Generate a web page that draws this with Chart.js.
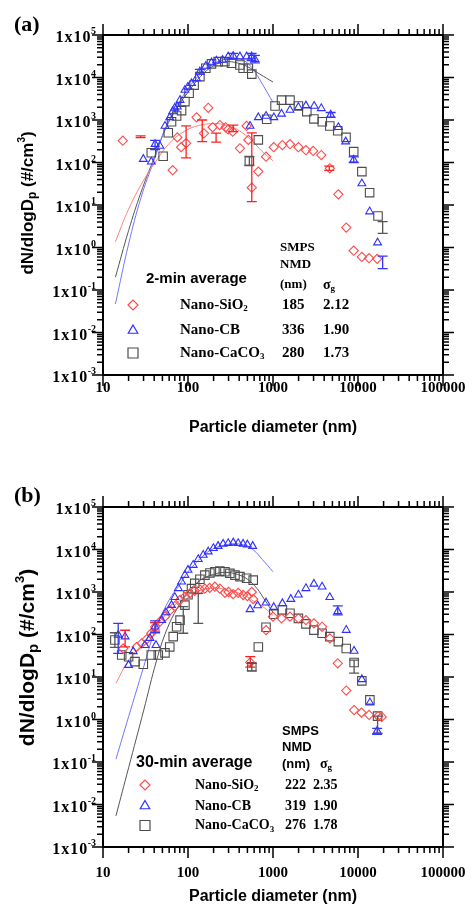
<!DOCTYPE html>
<html>
<head>
<meta charset="utf-8">
<script src="https://cdn.jsdelivr.net/npm/chart.js@4.4.0/dist/chart.umd.min.js"></script>
<style>
  html, body { margin: 0; padding: 0; background: #fff; }
  #wrap { position: relative; width: 473px; height: 908px; }
  .panel { position: absolute; left: 0; width: 473px; height: 454px; }
</style>
</head>
<body>
<div id="wrap">
  <div class="panel" style="top:0"><canvas id="chartA" width="473" height="454"></canvas></div>
  <div class="panel" style="top:454px"><canvas id="chartB" width="473" height="454"></canvas></div>
</div>
<script>
// axis ticks
const X_TICK_LABELS = ['10', '100', '1000', '10000', '100000'];
const Y_TICK_EXPONENTS = [-3, -2, -1, 0, 1, 2, 3, 4, 5];

// legend table
const MATERIALS = ['Nano-SiO', 'Nano-CB', 'Nano-CaCO'];
const MATERIAL_SUB = ['2', '', '3'];
const aNMD = ['185', '336', '280'];
const aSigma = ['2.12', '1.90', '1.73'];
const bNMD = ['222', '319', '276'];
const bSigma = ['2.35', '1.90', '1.78'];

// ---- panel (a): 2-min average ----
const aSiO2X = [17.1, 66, 75, 83, 95, 126, 154, 173, 195, 237, 277, 297, 336, 408, 489, 513, 563, 672, 828, 1020, 1290, 1585, 1990, 2440, 2970, 3700, 4660, 5870, 7270, 8900, 11100, 13500, 16800];
const aSiO2Y = [326, 66, 390, 230, 285, 1155, 487, 1940, 675, 760, 675, 600, 530, 216, 725, 340, 25.5, 61, 137, 229, 257, 270, 229, 195, 187, 150, 73, 17.8, 2.95, 0.84, 0.6, 0.56, 0.54];
const aCBX = [29.8, 37, 41, 46.7, 53.6, 61, 66, 70, 75, 80.6, 92, 100, 110, 126, 138, 162, 189, 216, 255, 297, 340, 408, 489, 537, 560, 612, 672, 828, 1025, 1260, 1585, 1990, 2440, 3050, 3700, 4770, 5870, 7160, 8900, 11100, 13700, 17000];
const aCBY = [120, 104, 270, 245, 720, 1150, 1590, 1930, 2050, 2940, 5080, 6000, 7300, 9560, 13700, 18600, 22400, 24800, 25800, 30900, 32000, 31000, 31000, 720, 31000, 26900, 1150, 1240, 1150, 1390, 1720, 2000, 2180, 2130, 1880, 1320, 675, 310, 115, 32, 7, 1.3];
const aCaX = [37, 51, 58.6, 64, 73.5, 84, 92, 103, 118, 138, 162, 189, 226, 271, 325, 408, 445, 513, 527, 563, 672, 843, 1057, 1260, 1585, 1990, 2500, 3030, 3800, 4660, 5780, 7230, 8900, 11100, 13700, 17200];
const aCaY = [170, 140, 500, 910, 1240, 1660, 2700, 4250, 6630, 10500, 16500, 20900, 23600, 23600, 21600, 19700, 16500, 16500, 108, 12000, 340, 1040, 2140, 2940, 2940, 2140, 1570, 1060, 910, 720, 560, 390, 180, 61, 19.5, 5.5];
const aSiO2FitX = [14, 20, 30, 43, 60, 85, 120, 185, 280, 400, 560, 750, 1000];
const aSiO2FitY = [1.37, 8, 38, 115, 280, 500, 700, 820, 760, 560, 330, 180, 110];
const aCBFitX = [14, 20, 28, 40, 55, 75, 100, 140, 200, 280, 380, 500, 620, 750, 1000];
const aCBFitY = [0.047, 1.2, 15, 115, 700, 2200, 5500, 12000, 21000, 27000, 28000, 22000, 13000, 7000, 2600];
const aCaFitX = [14, 20, 28, 40, 55, 75, 100, 140, 200, 280, 380, 500, 700, 1000];
const aCaFitY = [0.2, 2.5, 20, 130, 650, 2000, 4500, 10500, 19000, 23500, 22000, 18000, 12000, 7800];
// error bars: [diameter, low, high]
const aSiO2Err = [[27.7, 385, 425], [95, 128, 724], [147, 310, 1000], [214, 300, 490], [341, 530, 760], [563, 12, 500], [4590, 65, 82]];
const aCBErr = [[41, 200, 330], [138, 12000, 15500], [340, 27000, 37000], [560, 25000, 37000], [612, 22000, 33000], [4770, 1150, 1500], [8900, 100, 135], [19500, 0.32, 0.63]];
const aCaErr = [[527, 85, 140], [19500, 2.16, 4.05]];

// ---- panel (b): 30-min average ----
const bSiO2X = [17.3, 24.9, 28.5, 32.6, 37, 41, 46.7, 53.6, 61, 70, 80.6, 92, 105, 120, 138, 158, 180, 207, 237, 272, 300, 340, 390, 445, 500, 540, 563, 585, 828, 1000, 1260, 1585, 1990, 2440, 3030, 3780, 4660, 5780, 7270, 9000, 11000, 13500, 17300, 19000];
const bSiO2Y = [47, 51, 62, 77, 107, 152, 200, 263, 363, 467, 650, 780, 930, 1070, 1150, 1200, 1250, 1330, 1200, 960, 1000, 890, 950, 850, 800, 22, 1000, 680, 127, 263, 240, 263, 240, 218, 183, 152, 81, 21, 4.8, 1.67, 1.45, 1.28, 1.2, 1.15];
const bCBX = [15.1, 18.2, 20, 22.7, 31.2, 35.7, 41, 42, 49, 55, 64, 70, 77, 84, 92, 100, 115, 132, 151, 173, 199, 226, 259, 297, 341, 389, 445, 500, 537, 577, 660, 828, 1020, 1290, 1620, 1990, 2440, 3030, 3780, 4660, 5780, 7270, 9000, 11100, 13800, 16800];
const bCBY = [98, 89, 19, 40, 56, 82, 152, 56, 218, 330, 490, 750, 1220, 1740, 2500, 3300, 4300, 5900, 7400, 8900, 10700, 12000, 13500, 14000, 14500, 14000, 13500, 13000, 390, 12000, 480, 560, 440, 540, 680, 860, 1220, 1550, 1330, 750, 350, 127, 41, 8.8, 2.5, 0.54];
const bCaX = [13.8, 16.6, 20, 23.8, 29.8, 37, 44.7, 53.6, 61, 67, 73.5, 80.6, 92, 100, 110, 120, 138, 158, 181, 207, 237, 272, 311, 357, 408, 489, 563, 585, 672, 828, 1020, 1290, 1585, 1990, 2440, 3030, 3780, 4660, 5870, 7270, 9000, 11100, 13800, 17000];
const bCaY = [74, 33, 30, 23, 20, 33, 33, 37, 51, 89, 152, 218, 490, 860, 1200, 1600, 2000, 2500, 2800, 3000, 3100, 3000, 2750, 2500, 2300, 2100, 17.4, 1900, 51, 148, 300, 380, 316, 240, 178, 127, 107, 89, 68, 47, 22, 8.1, 2.9, 1.2];
const bSiO2FitX = [14.2, 20, 30, 40, 60, 90, 130, 200, 300, 450, 600, 800, 1000];
const bSiO2FitY = [7.1, 25, 65, 140, 360, 750, 1050, 1250, 1100, 850, 600, 420, 280];
const bCBFitX = [14.2, 20, 30, 41, 60, 80, 100, 150, 200, 320, 450, 590, 750, 1000];
const bCBFitY = [0.116, 1.16, 17, 127, 650, 1500, 3000, 7000, 10500, 13500, 12800, 9700, 5800, 3000];
const bCaFitX = [14.2, 20, 30, 42.8, 56, 75, 100, 140, 200, 276, 380, 500, 650, 800, 1000];
const bCaFitY = [0.0054, 0.073, 1.6, 25, 127, 420, 1000, 1900, 2600, 2900, 2600, 2000, 1200, 650, 330];
const bSiO2Err = [[18.2, 51, 126], [41, 120, 190], [540, 17, 30]];
const bCBErr = [[15.1, 36, 182], [41, 110, 210], [5780, 290, 470], [16800, 0.45, 0.62]];
const bCaErr = [[13.8, 50, 110], [88, 107, 455], [132, 182, 930], [563, 14, 21], [9000, 12.3, 25], [17000, 0.47, 1.2]];

const SERIF = '"Liberation Serif", "Times New Roman", serif';
const SANS = '"Liberation Sans", Arial, sans-serif';
const RED = '#ff4a4a', BLUE = '#2f2fff', GRAY = '#4d4d4d';
const RED_FIT = '#ff8080', BLUE_FIT = '#7474ff', GRAY_FIT = '#555';

const mk = (xs, ys) => xs.map((x, i) => ({ x, y: ys[i] }));

function rich(ctx, x, y, parts, align) {
  let w = 0;
  parts.forEach(p => { ctx.font = p[1]; w += ctx.measureText(p[0]).width; });
  let cx = align === 'center' ? x - w / 2 : align === 'right' ? x - w : x;
  ctx.textAlign = 'left';
  parts.forEach(p => {
    ctx.font = p[1];
    ctx.fillText(p[0], cx, y + (p[2] || 0));
    cx += ctx.measureText(p[0]).width;
  });
}

function marker(ctx, style, x, y, color) {
  ctx.save();
  ctx.strokeStyle = color; ctx.lineWidth = 1.2;
  ctx.beginPath();
  if (style === 'rectRot') {
    const r = 5;
    ctx.moveTo(x - r, y); ctx.lineTo(x, y - r); ctx.lineTo(x + r, y); ctx.lineTo(x, y + r); ctx.closePath();
  } else if (style === 'triangle') {
    const r = 5.5;
    for (let k = 0; k < 3; k++) {
      const a = k * 2 * Math.PI / 3;
      const px = x + Math.sin(a) * r, py = y - Math.cos(a) * r;
      k ? ctx.lineTo(px, py) : ctx.moveTo(px, py);
    }
    ctx.closePath();
  } else {
    ctx.rect(x - 5, y - 5, 10, 10);
  }
  ctx.stroke();
  ctx.restore();
}

function errorBars(chart, list, color) {
  const { ctx, scales: { x, y } } = chart;
  ctx.save();
  ctx.strokeStyle = color; ctx.lineWidth = 1.3;
  ctx.beginPath();
  list.forEach(([v, lo, hi]) => {
    const px = x.getPixelForValue(v), y1 = y.getPixelForValue(lo), y2 = y.getPixelForValue(hi);
    ctx.moveTo(px, y1); ctx.lineTo(px, y2);
    ctx.moveTo(px - 5, y1); ctx.lineTo(px + 5, y1);
    ctx.moveTo(px - 5, y2); ctx.lineTo(px + 5, y2);
  });
  ctx.stroke();
  ctx.restore();
}

function drawAxes(chart, p) {
  const { ctx, chartArea: a, scales: { x, y } } = chart;
  ctx.save();
  ctx.strokeStyle = '#000';
  ctx.lineWidth = 2;
  ctx.strokeRect(a.left, a.top, a.right - a.left, a.bottom - a.top);
  ctx.lineWidth = 1.5;
  ctx.beginPath();
  X_TICK_LABELS.forEach((lab, i) => {
    const d = Number(lab);
    for (let m = 1; m <= 9; m++) {
      if (m > 1 && i === X_TICK_LABELS.length - 1) break;
      const px = x.getPixelForValue(d * m), len = m === 1 ? 11 : 6;
      ctx.moveTo(px, a.bottom); ctx.lineTo(px, a.bottom + len);
      ctx.moveTo(px, a.top); ctx.lineTo(px, a.top - len);
    }
  });
  Y_TICK_EXPONENTS.forEach((e, i) => {
    for (let m = 1; m <= 9; m++) {
      if (m > 1 && i === Y_TICK_EXPONENTS.length - 1) break;
      const py = y.getPixelForValue(m * Math.pow(10, e)), len = m === 1 ? 11 : 6;
      ctx.moveTo(a.left, py); ctx.lineTo(a.left - len, py);
      ctx.moveTo(a.right, py); ctx.lineTo(a.right + len, py);
    }
  });
  ctx.stroke();

  ctx.fillStyle = '#000';
  ctx.textBaseline = 'middle';
  ctx.textAlign = 'center';
  ctx.font = `bold 15px ${SERIF}`;
  X_TICK_LABELS.forEach(lab => ctx.fillText(lab, x.getPixelForValue(Number(lab)), p.xTickY));

  ctx.textBaseline = 'alphabetic';
  Y_TICK_EXPONENTS.forEach(e => {
    const py = y.getPixelForValue(Math.pow(10, e));
    ctx.font = `bold 10px ${SERIF}`;
    ctx.textAlign = 'right';
    const ex = String(e);
    const ew = ctx.measureText(ex).width;
    ctx.fillText(ex, 96, py - 1);
    ctx.font = `bold 16px ${SERIF}`;
    ctx.letterSpacing = '1px';
    ctx.fillText('1x10', 96 - ew - 0.5 + 1, py + 7);
    ctx.letterSpacing = '0px';
  });

  // axis titles
  ctx.textBaseline = 'middle';
  rich(ctx, 273, p.xTitleY, [['Particle diameter (nm)', `bold 16px ${SANS}`]], 'center');
  ctx.save();
  ctx.translate(28, p.yTitleY);
  ctx.rotate(-Math.PI / 2);
  const f = p.yTitleSize;
  rich(ctx, 0, 0, [
    ['dN/dlogD', `bold ${f}px ${SANS}`],
    ['p', `bold ${Math.round(f * 0.7)}px ${SANS}`, f * 0.3],
    [' (#/cm', `bold ${f}px ${SANS}`],
    ['3', `bold ${Math.round(f * 0.6)}px ${SANS}`, -f * 0.35],
    [')', `bold ${f}px ${SANS}`]
  ], 'center');
  ctx.restore();

  ctx.textBaseline = 'alphabetic';
  ctx.textAlign = 'left';
  ctx.font = `bold 22px ${SERIF}`;
  ctx.fillText(p.label, 14, p.labelY);
  ctx.restore();
}

function drawLegend(chart, p) {
  const ctx = chart.ctx;
  const L = p.legend;
  ctx.save();
  ctx.fillStyle = '#000';
  ctx.textBaseline = 'middle';
  rich(ctx, L.titleX, L.titleY, [[p.title, `bold ${L.titleSize}px ${SANS}`]], 'left');
  rich(ctx, L.headX, L.headY[0], [['SMPS', L.headFont]], 'left');
  rich(ctx, L.headX, L.headY[1], [['NMD', L.headFont]], 'left');
  rich(ctx, L.headX, L.headY[2], [['(nm)', L.headFont]], 'left');
  rich(ctx, L.sigHeadX, L.headY[2], [['σ', `bold 14px ${SERIF}`], ['g', `bold 9px ${SERIF}`, 4]], 'left');
  const styles = [['rectRot', RED], ['triangle', BLUE], ['rect', GRAY]];
  MATERIALS.forEach((name, i) => {
    const ry = L.rowY[i];
    marker(ctx, styles[i][0], L.markX, ry, styles[i][1]);
    const nf = `bold ${L.nameSize}px ${SERIF}`;
    rich(ctx, L.nameX, ry, [[name, nf], [MATERIAL_SUB[i], `bold 9px ${SERIF}`, 4]], 'left');
    rich(ctx, L.nmdX, ry, [[p.nmd[i], nf]], 'left');
    rich(ctx, L.sigX, ry, [[p.sigma[i], nf]], 'left');
  });
  ctx.restore();
}

function makePanel(id, p) {
  const point = (xs, ys, style, color, r) => ({
    data: mk(xs, ys), pointStyle: style, pointRadius: r, borderColor: color,
    backgroundColor: 'rgba(0,0,0,0)', pointBorderWidth: 1.1, showLine: false
  });
  const fit = (xs, ys, color) => ({
    data: mk(xs, ys), showLine: true, borderColor: color, borderWidth: 1,
    pointRadius: 0, tension: 0.4, fill: false
  });
  new Chart(document.getElementById(id), {
    type: 'scatter',
    data: {
      datasets: [
        point(p.cbX, p.cbY, 'triangle', BLUE, 4.5),
        point(p.siX, p.siY, 'rectRot', RED, 4.6),
        point(p.caX, p.caY, 'rect', GRAY, 6),
        fit(p.siFitX, p.siFitY, RED_FIT),
        fit(p.cbFitX, p.cbFitY, BLUE_FIT),
        fit(p.caFitX, p.caFitY, GRAY_FIT)
      ]
    },
    options: {
      responsive: false,
      animation: false,
      devicePixelRatio: 1,
      layout: { padding: { left: 103, right: 30, top: p.padTop, bottom: p.padBottom } },
      scales: {
        x: { type: 'logarithmic', min: 10, max: 100000, display: false },
        y: { type: 'logarithmic', min: 1e-3, max: 1e5, display: false }
      },
      plugins: { legend: { display: false }, tooltip: { enabled: false } }
    },
    plugins: [{
      id: 'decor' + id,
      afterDatasetsDraw(chart) {
        errorBars(chart, p.siErr, '#ff1f1f');
        errorBars(chart, p.cbErr, '#3535ff');
        errorBars(chart, p.caErr, '#555');
      },
      afterDraw(chart) {
        drawAxes(chart, p);
        drawLegend(chart, p);
      }
    }]
  });
}

makePanel('chartA', {
  siX: aSiO2X, siY: aSiO2Y, cbX: aCBX, cbY: aCBY, caX: aCaX, caY: aCaY,
  siFitX: aSiO2FitX, siFitY: aSiO2FitY, cbFitX: aCBFitX, cbFitY: aCBFitY, caFitX: aCaFitX, caFitY: aCaFitY,
  siErr: aSiO2Err, cbErr: aCBErr, caErr: aCaErr,
  padTop: 35, padBottom: 79, xTickY: 388, xTitleY: 428, yTitleY: 203, yTitleSize: 17,
  label: '(a)', labelY: 31, title: '2-min average', nmd: aNMD, sigma: aSigma,
  legend: { titleX: 146, titleY: 279, titleSize: 15, markX: 133, nameX: 180, nameSize: 15,
    headX: 280, sigHeadX: 323, nmdX: 282, sigX: 323, rowY: [305, 330.5, 353], headY: [248, 265, 285], headFont: `bold 13px ${SERIF}` }
});

makePanel('chartB', {
  siX: bSiO2X, siY: bSiO2Y, cbX: bCBX, cbY: bCBY, caX: bCaX, caY: bCaY,
  siFitX: bSiO2FitX, siFitY: bSiO2FitY, cbFitX: bCBFitX, cbFitY: bCBFitY, caFitX: bCaFitX, caFitY: bCaFitY,
  siErr: bSiO2Err, cbErr: bCBErr, caErr: bCaErr,
  padTop: 53, padBottom: 61, xTickY: 419, xTitleY: 443, yTitleY: 203.5, yTitleSize: 21,
  label: '(b)', labelY: 48, title: '30-min average', nmd: bNMD, sigma: bSigma,
  legend: { titleX: 136, titleY: 308.5, titleSize: 16, markX: 145, nameX: 195, nameSize: 14,
    headX: 282, sigHeadX: 320, nmdX: 285, sigX: 313, rowY: [331, 352, 371.5], headY: [277.5, 293.5, 310], headFont: `bold 13px ${SANS}` }
});
</script>
</body>
</html>
